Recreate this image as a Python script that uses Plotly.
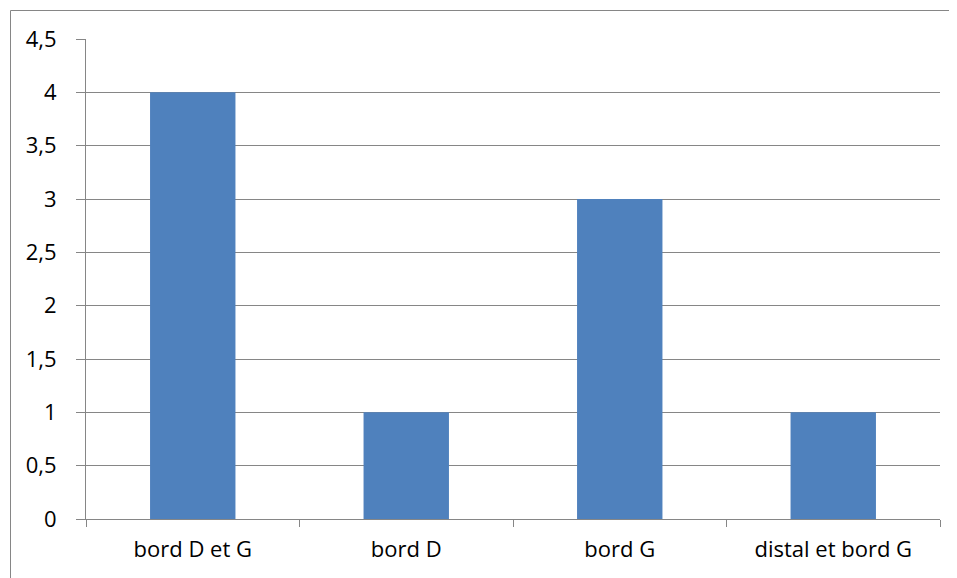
import plotly.graph_objects as go

categories = ["bord D et G", "bord D", "bord G", "distal et bord G"]
values = [4, 1, 3, 1]
y_ticks = [0, 0.5, 1, 1.5, 2, 2.5, 3, 3.5, 4, 4.5]

OFF = 8  # page body margin
W, H = 957 - OFF, 578 - OFF
L, R, T, B = 86 - OFF, 940 - OFF, 39 - OFF, 519 - OFF

fig = go.Figure(go.Bar(x=categories, y=values, marker=dict(color="#4F81BD", line=dict(width=0)), width=0.4))

font = dict(family="Open Sans, sans-serif", size=22, color="#000000")

fig.update_layout(
    width=W, height=H,
    margin=dict(l=L, r=W - R, t=T, b=H - B, autoexpand=False),
    paper_bgcolor="white", plot_bgcolor="white",
    separators=", ",
    font=font,
    showlegend=False,
    bargap=0.6,
)
fig.update_xaxes(
    type="category", showline=True, linecolor="#868686", linewidth=1,
    ticks="outside", tickson="boundaries", ticklen=7, tickcolor="#868686",
    showgrid=False, tickfont=font, mirror=False, ticklabelstandoff=11,
)
fig.update_yaxes(
    range=[0, 4.5], tickvals=y_ticks, showline=True, linecolor="#868686", linewidth=1,
    ticks="outside", ticklen=9, tickcolor="#868686",
    showgrid=True, gridcolor="#868686", gridwidth=1, zeroline=False,
    tickfont=font, ticklabelstandoff=15,
)

pw, ph = R - L, B - T
def px(x): return (x - L) / pw
def py(y): return (B - y) / ph

fig.add_shape(type="rect", xref="paper", yref="paper",
              x0=px(10.5 - OFF), x1=px(W + 5), y0=py(H + 5), y1=py(10.5 - OFF),
              line=dict(color="#868686", width=1), fillcolor="rgba(0,0,0,0)", layer="above")

fig.write_html("out.html")
